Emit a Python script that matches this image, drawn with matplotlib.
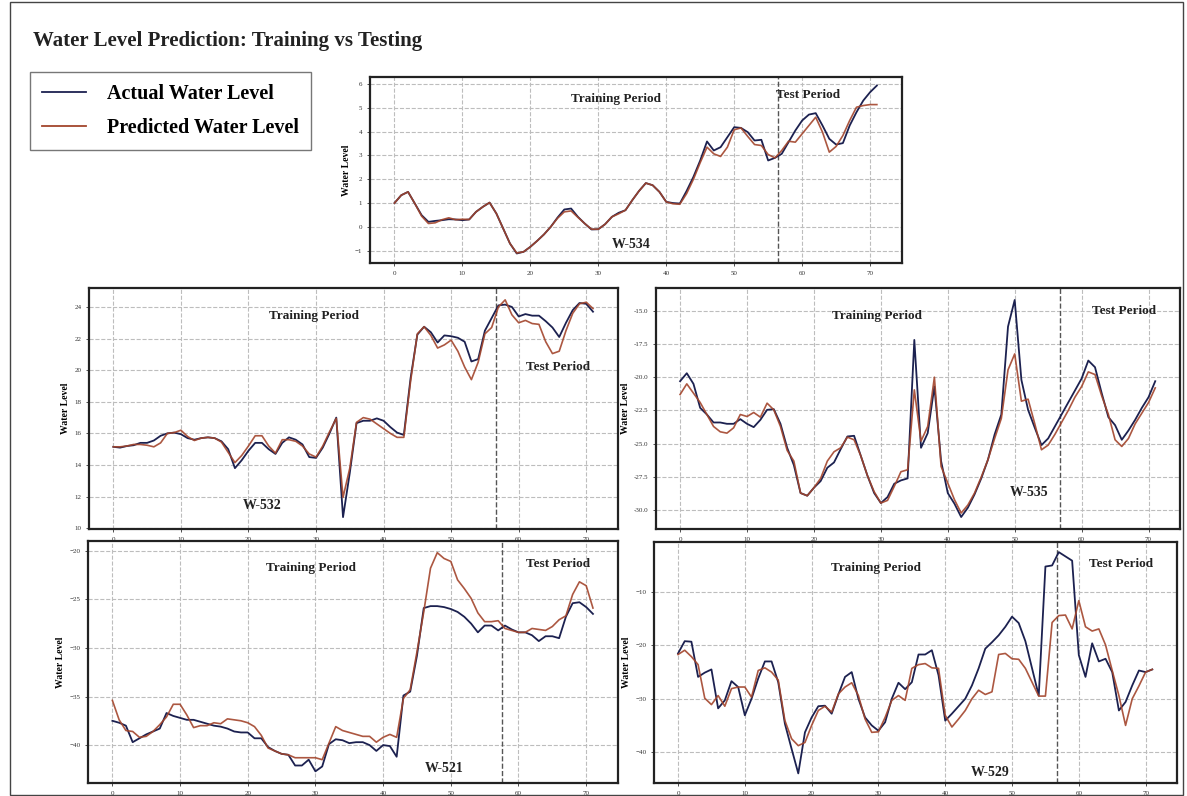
import matplotlib
matplotlib.use("Agg")
import matplotlib.pyplot as plt
from matplotlib.patches import Rectangle

# Datos (indice 0..71)
w534_actual = [1.0, 1.33, 1.47, 0.98, 0.49, 0.21, 0.25, 0.28, 0.32, 0.31, 0.28, 0.31, 0.63, 0.84, 1.02,
               0.56, -0.07, -0.7, -1.12, -1.05, -0.84, -0.59, -0.32, 0.0, 0.39, 0.73, 0.77, 0.42, 0.14,
               -0.11, -0.1, 0.11, 0.42, 0.59, 0.7, 1.12, 1.51, 1.84, 1.75, 1.47, 1.05, 1.0, 0.98, 1.51,
               2.1, 2.79, 3.59, 3.21, 3.35, 3.77, 4.19, 4.16, 3.98, 3.63, 3.66, 2.79, 2.9, 3.07, 3.56,
               4.05, 4.47, 4.72, 4.78, 4.26, 3.7, 3.46, 3.52, 4.26, 4.82, 5.31, 5.66, 5.94]
w534_pred = [1.0, 1.33, 1.47, 0.98, 0.45, 0.14, 0.17, 0.3, 0.38, 0.3, 0.32, 0.31, 0.63, 0.84, 1.02,
             0.56, -0.07, -0.7, -1.1, -1.05, -0.84, -0.59, -0.32, 0.0, 0.36, 0.63, 0.67, 0.4, 0.14,
             -0.1, -0.1, 0.11, 0.42, 0.55, 0.7, 1.12, 1.51, 1.84, 1.75, 1.47, 1.05, 0.97, 0.95, 1.4,
             2.0, 2.7, 3.35, 3.07, 2.96, 3.35, 4.08, 4.16, 3.8, 3.46, 3.42, 3.04, 2.9, 3.21, 3.6,
             3.56, 3.91, 4.26, 4.61, 3.98, 3.14, 3.38, 3.84, 4.47, 5.03, 5.1, 5.14, 5.14]

w532_actual = [15.15, 15.1, 15.2, 15.25, 15.4, 15.4, 15.55, 15.85, 16.0, 16.05, 15.95, 15.7, 15.6,
               15.7, 15.75, 15.7, 15.5, 15.0, 13.8, 14.3, 14.9, 15.4, 15.4, 15.0, 14.7, 15.4, 15.75,
               15.6, 15.3, 14.5, 14.45, 15.1, 16.0, 17.0, 10.7, 13.5, 16.65, 16.8, 16.8, 16.95, 16.8,
               16.4, 16.05, 15.9, 19.5, 22.25, 22.75, 22.4, 21.75, 22.2, 22.15, 22.05, 21.8, 20.55,
               20.7, 22.5, 23.3, 24.1, 24.15, 24.0, 23.4, 23.55, 23.45, 23.45, 23.1, 22.7, 22.1,
               23.0, 23.8, 24.25, 24.2, 23.7]
w532_pred = [15.15, 15.15, 15.2, 15.3, 15.3, 15.25, 15.15, 15.4, 16.0, 16.05, 16.2, 15.8, 15.55,
             15.7, 15.75, 15.7, 15.45, 14.8, 14.15, 14.6, 15.2, 15.85, 15.85, 15.2, 14.75, 15.6, 15.6,
             15.5, 15.2, 14.7, 14.5, 15.2, 16.1, 16.95, 11.95, 13.8, 16.7, 17.0, 16.9, 16.6, 16.3,
             16.0, 15.75, 15.75, 19.3, 22.3, 22.75, 22.2, 21.4, 21.6, 21.9, 21.2, 20.2, 19.4,
             20.5, 22.3, 22.7, 24.0, 24.45, 23.5, 23.0, 23.15, 22.95, 22.9, 21.8, 21.05, 21.2,
             22.5, 23.6, 24.2, 24.3, 23.9]

w535_actual = [-20.3, -19.7, -20.5, -22.3, -22.8, -23.4, -23.4, -23.5, -23.5, -23.15, -23.5, -23.75,
               -23.2, -22.45, -22.4, -23.5, -25.3, -26.6, -28.7, -28.9, -28.3, -27.8, -26.8, -26.4,
               -25.4, -24.45, -24.4, -25.9, -27.4, -28.7, -29.45, -29.0, -28.0, -27.75, -27.6,
               -17.2, -25.3, -24.2, -20.7, -26.3, -28.7, -29.5, -30.5, -29.8, -28.8, -27.6, -26.2,
               -24.3, -22.8, -16.2, -14.2, -20.2, -22.45, -23.8, -25.1, -24.6, -23.7, -22.8, -21.9,
               -21.0, -20.1, -18.75, -19.25, -21.2, -23.0, -23.6, -24.7, -24.0, -23.2, -22.3, -21.5,
               -20.3]
w535_pred = [-21.3, -20.5, -21.2, -21.9, -22.8, -23.7, -24.1, -24.2, -23.8, -22.8, -22.95, -22.65,
             -23.0, -21.95, -22.45, -23.7, -25.5, -26.3, -28.7, -28.9, -28.3, -27.6, -26.3, -25.6,
             -25.3, -24.5, -24.7, -25.9, -27.4, -28.6, -29.45, -29.25, -28.2, -27.1, -26.95,
             -20.95, -24.8, -23.7, -20.0, -26.7, -27.95, -29.2, -30.2, -29.6, -28.7, -27.5, -26.2,
             -24.6, -23.1, -19.45, -18.25, -21.8, -21.65, -23.5, -25.45, -25.1, -24.3, -23.4,
             -22.5, -21.5, -20.7, -19.6, -19.8, -21.4, -22.8, -24.7, -25.2, -24.6, -23.5, -22.7,
             -21.9, -20.8]

w521_actual = [-37.5, -37.7, -38.0, -39.7, -39.3, -38.9, -38.6, -38.3, -36.7, -37.0, -37.2, -37.4,
               -37.4, -37.6, -37.8, -38.0, -38.1, -38.3, -38.6, -38.7, -38.7, -39.3, -39.3, -40.2,
               -40.6, -40.9, -41.0, -42.1, -42.1, -41.5, -42.7, -42.2, -39.9, -39.4, -39.5, -39.8,
               -39.7, -39.7, -40.0, -40.6, -40.0, -40.1, -41.2, -34.9, -34.5, -30.8, -25.9, -25.7,
               -25.7, -25.8, -26.0, -26.3, -26.8, -27.5, -28.4, -27.7, -27.7, -28.2, -27.7, -28.1,
               -28.4, -28.4, -28.7, -29.3, -28.8, -28.8, -29.0, -26.8, -25.4, -25.3, -25.8, -26.5]
w521_pred = [-35.4, -37.4, -38.5, -38.6, -39.2, -39.1, -38.6, -37.9, -37.1, -35.8, -35.8, -36.9,
             -38.2, -38.0, -38.0, -37.7, -37.8, -37.3, -37.4, -37.5, -37.7, -38.1, -39.0, -40.3,
             -40.6, -40.9, -41.0, -41.3, -41.3, -41.3, -41.3, -41.5, -39.8, -38.1, -38.5, -38.7,
             -38.9, -39.1, -39.1, -39.7, -39.2, -38.9, -39.2, -35.2, -34.3, -30.4, -26.3, -21.8,
             -20.2, -20.8, -21.1, -23.0, -23.9, -24.9, -26.4, -27.3, -27.3, -27.2, -28.0, -28.2,
             -28.4, -28.4, -28.0, -28.1, -28.2, -27.8, -27.1, -26.7, -24.5, -23.2, -23.6, -25.9]

w529_actual = [-21.5, -19.2, -19.3, -25.9, -25.1, -24.5, -31.8, -30.3, -26.7, -27.8, -33.1, -30.0,
               -26.2, -23.0, -23.0, -26.9, -34.7, -39.4, -44.0, -36.3, -33.5, -31.4, -31.3, -32.8,
               -29.2, -25.9, -25.0, -30.0, -33.5, -35.0, -36.0, -34.4, -30.0, -27.0, -28.2, -26.9,
               -21.7, -21.7, -20.9, -25.6, -34.1, -32.8, -31.4, -30.0, -27.5, -24.3, -20.6, -19.4,
               -18.1, -16.5, -14.6, -15.8, -19.2, -24.3, -29.4, -5.2, -5.0, -2.5, -3.3, -4.1, -21.8,
               -25.9, -19.6, -23.0, -22.5, -25.0, -32.2, -30.6, -27.5, -24.7, -25.0, -24.5]
w529_pred = [-21.7, -20.9, -22.1, -23.6, -29.9, -31.1, -29.4, -31.4, -28.1, -27.8, -27.8, -29.7,
             -24.7, -24.2, -25.0, -26.5, -34.1, -37.5, -38.8, -38.2, -35.0, -32.2, -31.4, -32.5,
             -29.1, -27.8, -27.0, -29.4, -33.8, -36.3, -36.2, -33.5, -30.3, -29.4, -30.3, -24.3,
             -23.6, -23.4, -24.2, -24.3, -33.1, -35.3, -33.8, -32.2, -30.0, -28.4, -29.2, -28.7,
             -21.7, -21.5, -22.5, -22.6, -24.3, -26.9, -29.5, -29.5, -15.7, -14.4, -14.3, -16.9,
             -11.6, -16.5, -17.3, -16.9, -19.9, -24.7, -29.4, -35.0, -30.0, -27.6, -25.0, -24.5]

x_ticks = [0, 10, 20, 30, 40, 50, 60, 70]
w534_yticks = [-1, 0, 1, 2, 3, 4, 5, 6]
w532_yticks = [10, 12, 14, 16, 18, 20, 22, 24]
w535_yticks = [-30.0, -27.5, -25.0, -22.5, -20.0, -17.5, -15.0]
w521_yticks = [-40, -35, -30, -25, -20]
w529_yticks = [-40, -30, -20, -10]

C_ACT = '#1c2150'
C_PRED = '#a3452c'
SERIF = ['Liberation Serif', 'DejaVu Serif']

W, H = 1187, 796


def px_box(x0, y0, x1, y1):
    return [x0 / W, 1 - y1 / H, (x1 - x0) / W, (y1 - y0) / H]


def panel(fig, box, actual, pred, yticks, ylim, test_x, texts, fmt=None):
    ax = fig.add_axes(px_box(*box))
    x = list(range(len(actual)))
    ax.plot(x, actual, color=C_ACT, lw=1.3, zorder=3)
    ax.plot(x, pred, color=C_PRED, lw=1.2, alpha=0.9, zorder=4)
    ax.axvline(test_x, color='#555555', ls='--', lw=1.0, zorder=2)
    ax.set_xlim(-3.6, 74.7)
    ax.set_ylim(*ylim)
    ax.set_xticks(x_ticks)
    ax.set_yticks(yticks)
    if fmt:
        ax.set_yticklabels([fmt.format(v) for v in yticks])
    ax.grid(True, ls='--', color='#bdbdbd', lw=0.8)
    ax.tick_params(labelsize=5, colors='#333333', length=2, width=0.6)
    for lab in ax.get_xticklabels() + ax.get_yticklabels():
        lab.set_family(SERIF)
    for s in ax.spines.values():
        s.set_linewidth(1.6)
        s.set_color('#222222')
    ax.set_ylabel('Water Level', fontsize=7, fontweight='bold', family=SERIF, labelpad=3)
    for (tx, ty, t, size) in texts:
        fig.text(tx / W, 1 - ty / H, t, fontsize=size, fontweight='bold', family=SERIF,
                 ha='center', va='center', color='#222222')
    return ax


fig = plt.figure(figsize=(W / 100, H / 100), dpi=100)

# Marco de la figura
fig.patches.append(Rectangle((10 / W, 1 / H), (W - 14) / W, (H - 3) / H, transform=fig.transFigure,
                             fill=False, lw=1.0, ec='#444444'))

fig.text(33 / W, 1 - 41 / H, 'Water Level Prediction: Training vs Testing', fontsize=15,
         fontweight='bold', family=SERIF, va='center', ha='left', color='#222222')

panel(fig, (370, 77, 902, 263), w534_actual, w534_pred, w534_yticks, (-1.52, 6.3), 56.4,
      [(616, 99, 'Training Period', 9.5), (808, 95, 'Test Period', 9.5), (631, 244, 'W-534', 10)])
panel(fig, (89, 288, 618, 529), w532_actual, w532_pred, w532_yticks, (9.95, 25.2), 56.6,
      [(314, 316, 'Training Period', 9.5), (558, 367, 'Test Period', 9.5), (262, 505, 'W-532', 10)])
panel(fig, (656, 288, 1180, 529), w535_actual, w535_pred, w535_yticks, (-31.4, -13.3), 56.8,
      [(877, 316, 'Training Period', 9.5), (1124, 311, 'Test Period', 9.5), (1029, 493, 'W-535', 10)],
      fmt='{:.1f}')
panel(fig, (88, 541, 618, 783), w521_actual, w521_pred, w521_yticks, (-43.9, -19.0), 57.6,
      [(311, 568, 'Training Period', 9.5), (558, 564, 'Test Period', 9.5), (444, 768, 'W-521', 10)])
panel(fig, (654, 542, 1177, 783), w529_actual, w529_pred, w529_yticks, (-45.8, -0.6), 56.7,
      [(876, 568, 'Training Period', 9.5), (1121, 564, 'Test Period', 9.5), (990, 773, 'W-529', 10)])

# Leyenda
handles = [plt.Line2D([], [], color=C_ACT, lw=1.3), plt.Line2D([], [], color=C_PRED, lw=1.3)]
leg = fig.legend(handles, ['Actual Water Level', 'Predicted Water Level'],
                 loc='upper left', bbox_to_anchor=(30 / W, 1 - 72 / H), borderaxespad=0,
                 prop={'family': SERIF, 'weight': 'bold', 'size': 14.5},
                 frameon=True, fancybox=False, edgecolor='#555555', handlelength=2.2,
                 handletextpad=1.0, labelspacing=0.7, borderpad=0.6)
leg.get_frame().set_linewidth(1.0)

fig.savefig('out.png', dpi=100)
